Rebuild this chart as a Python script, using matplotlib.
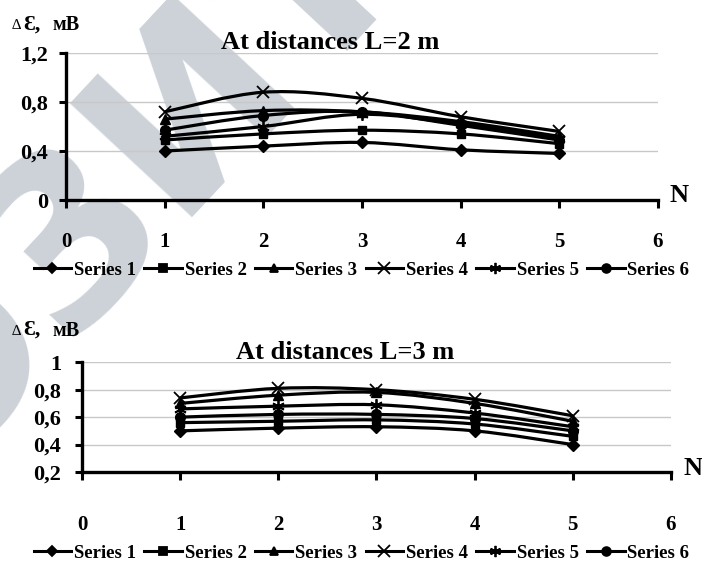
import numpy as np
import matplotlib
matplotlib.use("Agg")
import matplotlib.pyplot as plt
from matplotlib.path import Path
from matplotlib.patches import PathPatch
from matplotlib.lines import Line2D

# data
N = [1, 2, 3, 4, 5]
series_names = ["Series 1", "Series 2", "Series 3", "Series 4", "Series 5", "Series 6"]

# L = 2 m
l2_s1 = [0.40, 0.44, 0.47, 0.41, 0.38]
l2_s2 = [0.49, 0.54, 0.57, 0.54, 0.46]
l2_s3 = [0.66, 0.73, 0.72, 0.64, 0.52]
l2_s4 = [0.72, 0.88, 0.83, 0.68, 0.56]
l2_s5 = [0.52, 0.60, 0.70, 0.62, 0.50]
l2_s6 = [0.57, 0.69, 0.72, 0.61, 0.49]

# L = 3 m
l3_s1 = [0.50, 0.52, 0.53, 0.50, 0.40]
l3_s2 = [0.56, 0.57, 0.58, 0.55, 0.46]
l3_s3 = [0.70, 0.76, 0.78, 0.70, 0.57]
l3_s4 = [0.74, 0.81, 0.80, 0.73, 0.61]
l3_s5 = [0.66, 0.68, 0.69, 0.63, 0.53]
l3_s6 = [0.60, 0.62, 0.62, 0.59, 0.50]

l2_data = [l2_s1, l2_s2, l2_s3, l2_s4, l2_s5, l2_s6]
l3_data = [l3_s1, l3_s2, l3_s3, l3_s4, l3_s5, l3_s6]

markers = ["D", "s", "^", "x", (6, 2, 0), "o"]
msizes = [6, 6, 7, 9, 9, 7]

SERIF = ["Liberation Serif", "DejaVu Serif"]
plt.rcParams["font.family"] = SERIF
plt.rcParams["font.weight"] = "bold"


def smooth_path(xs, ys):
    # excel style smoothed line (catmull-rom through the points)
    pts = np.column_stack([xs, ys]).astype(float)
    n = len(pts)
    verts = [pts[0]]
    codes = [Path.MOVETO]
    for i in range(n - 1):
        p0 = pts[max(i - 1, 0)]
        p1 = pts[i]
        p2 = pts[i + 1]
        p3 = pts[min(i + 2, n - 1)]
        verts += [p1 + (p2 - p0) / 6, p2 - (p3 - p1) / 6, p2]
        codes += [Path.CURVE4] * 3
    return Path(verts, codes)


def draw_panel(ax, data, ylim, yticks, ylabels, xpad, ypad):
    ax.set_facecolor("none")
    for ys, m, ms in zip(data, markers, msizes):
        ax.add_patch(PathPatch(smooth_path(N, ys), fill=False, lw=2.3,
                               edgecolor="black", zorder=3))
        mew = 1.3 if m in ("x", (6, 2, 0)) else 1
        ax.plot(N, ys, ls="none", marker=m, ms=ms, color="black", mew=mew, zorder=4)
    ax.set_xlim(0, 6)
    ax.set_ylim(*ylim)
    ax.set_xticks(range(7))
    ax.set_yticks(yticks)
    ax.set_yticklabels(ylabels)
    ax.grid(axis="y", color="#c8c8c8", lw=1.0, zorder=0)
    for s in ("top", "right"):
        ax.spines[s].set_visible(False)
    for s in ("left", "bottom"):
        ax.spines[s].set_linewidth(2.4)
    ax.tick_params(axis="x", direction="out", length=6, width=2.2, pad=xpad, labelsize=15)
    ax.tick_params(axis="y", direction="out", length=5, width=2.2, pad=ypad, labelsize=16)
    for lab in ax.get_xticklabels() + ax.get_yticklabels():
        lab.set_fontweight("bold")


fig = plt.figure(figsize=(7.02, 5.66), dpi=100)

# watermark (cut by the top edge, as in the source)
fig.text(0.18, 0.675, "ОЗИТ", rotation=47, fontsize=165, color="#cdd2d9",
         ha="center", va="center", fontweight="bold", family=["DejaVu Sans"], zorder=-5)

ax1 = fig.add_axes([0.094, 0.6466, 0.843, 0.2597])
draw_panel(ax1, l2_data, (0, 1.2), [0, 0.4, 0.8, 1.2], ["0", "0,4", "0,8", "1,2"], 17, 8)

ax2 = fig.add_axes([0.1168, 0.166, 0.839, 0.194])
draw_panel(ax2, l3_data, (0.2, 1.0), [0.2, 0.4, 0.6, 0.8, 1.0],
           ["0,2", "0,4", "0,6", "0,8", "1"], 25, 10)

fig.text(0.47, 0.925, "At distances L=2 m", ha="center", va="center", fontsize=19, fontweight="bold")
fig.text(0.492, 0.378, "At distances L=3 m", ha="center", va="center", fontsize=19, fontweight="bold")

for y in (0.955, 0.415):
    fig.text(0.017, y, "∆", ha="left", va="center", fontsize=11, fontweight="normal")
    fig.text(0.033, y + 0.002, "Ɛ,", ha="left", va="center", fontsize=16, fontweight="bold")
    fig.text(0.074, y, "мВ", ha="left", va="center", fontsize=14.5, fontweight="bold")

fig.text(0.968, 0.655, "N", ha="center", va="center", fontsize=19, fontweight="bold")
fig.text(0.987, 0.172, "N", ha="center", va="center", fontsize=19, fontweight="bold")

handles = [Line2D([], [], color="black", lw=2.2, marker=m, ms=ms * 0.9, mew=1.3)
           for m, ms in zip(markers, msizes)]
for y in (0.523, 0.023):
    fig.legend(handles, series_names, loc="center", bbox_to_anchor=(0.515, y), ncol=6,
               frameon=False, handlelength=2.0, handletextpad=0.15, columnspacing=0.45,
               prop={"family": SERIF, "weight": "bold", "size": 13.5})

fig.savefig("out.png", dpi=100)
